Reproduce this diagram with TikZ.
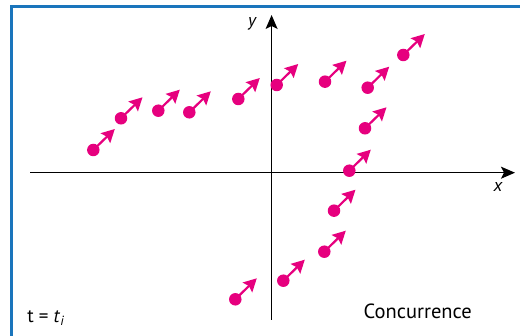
\documentclass[tikz,border=0pt]{standalone}
\usepackage{fontspec}
\setmainfont{PT Sans}
\usetikzlibrary{arrows.meta}
\definecolor{spinpink}{RGB}{230,0,126}
\definecolor{frameblue}{RGB}{26,117,188}
\tikzstyle{particle} = [circle, fill=spinpink, draw=none, inner sep=0pt,
  minimum size=12.5pt]
\tikzstyle{spinarrow} = [draw=spinpink, line width=2.2pt,
  -{Stealth[length=13pt, width=13.5pt, inset=2pt]}]
\tikzstyle{axis} = [draw=black, line width=1.3pt,
  -{Stealth[length=14pt, width=12pt, inset=3pt]}]
\tikzstyle{axlabel} = [font=\fontsize{18}{21}\selectfont\itshape, inner sep=0pt]
\tikzstyle{caption} = [font=\fontsize{20.5}{24}\selectfont, inner sep=0pt]

\begin{document}
\begin{tikzpicture}[x=1pt, y=-1pt]
\useasboundingbox (0,0) rectangle (520,336);

% ==========================================
% FRAME (left and top edges only)
% ==========================================
\draw[frameblue, line width=3.3pt] (11.7,336) -- (11.7,6.7) -- (520,6.7);

% ==========================================
% AXES
% ==========================================
\coordinate (xl) at (30,172.7);
\coordinate (xr) at (515,172.7);
\coordinate (yb) at (271.6,320);
\coordinate (yt) at (271.6,15);
\draw[axis] (xl) -- (xr);
\draw[axis] (yb) -- (yt);
\node[axlabel] (xlab) at (498,187) {x};
\node[axlabel] (ylab) at (252,24) {y};

% ==========================================
% PARTICLES (dot + spin arrow)
% ==========================================
\foreach \n/\px/\py in {1/93.3/150, 2/121/118.3, 3/158.3/110.7, 4/189.3/112.3,
    5/238.3/99, 6/276.7/85, 7/325/81.7, 8/367.7/87.7, 9/403.3/55,
    10/365/128.3, 11/349.3/170.7, 12/334/210.7, 13/324.3/251.7,
    14/283.3/280.7, 15/235.3/299.3}
  { \node[particle] (p\n) at (\px,\py) {};
    \coordinate (t\n) at ([shift={(21.5,-21)}]p\n.center);
    \draw[spinarrow] (p\n.center) -- (t\n); }

% ==========================================
% TEXT
% ==========================================
\node[caption, font=\fontsize{19}{22}\selectfont] (time) at (46,318)
  {t = \textit{t}\textsubscript{\textit{i}}};
\node[caption] (conc) at (417.7,311) {Concurrence};

\end{tikzpicture}
\end{document}
